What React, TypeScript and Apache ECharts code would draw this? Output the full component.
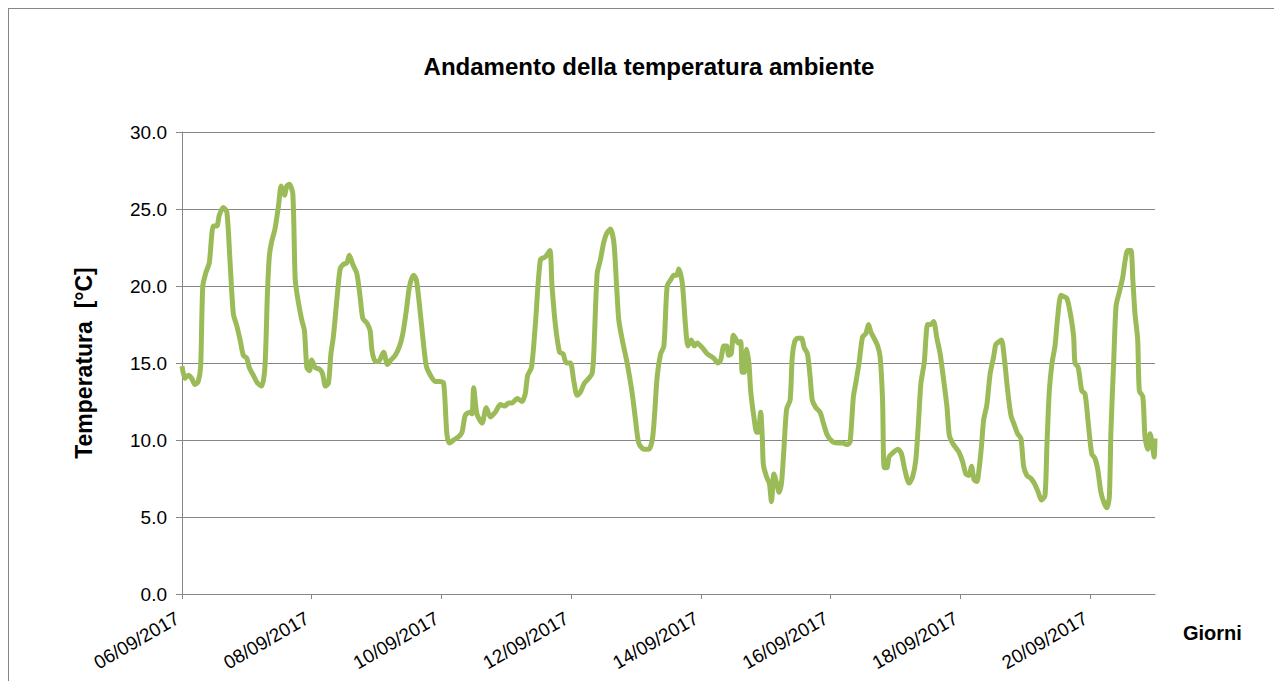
import React, { useEffect, useRef } from "react";
import * as echarts from "echarts";

// Hours elapsed since 06/09/2017 00:00
const hoursFromStart: number[] = [
  0, 1.1, 2.3, 3.6, 4.8, 6.0, 6.9, 7.7, 8.9, 10.1,
  11.6, 12.9, 13.8, 15.3, 16.6, 17.8, 19.0, 20.3, 21.5, 22.7,
  24.0, 24.9, 26.4, 27.9, 29.5, 30.7, 31.6, 32.3, 33.2, 34.4,
  35.7, 36.7, 37.9, 38.8, 39.7, 41.0, 41.9, 43.1, 44.3, 45.3,
  46.2, 47.2, 48.0, 49.3, 50.9, 52.0, 53.1, 54.2, 55.1, 56.0,
  57.3, 58.5, 59.7, 61.0, 61.9, 63.2, 64.7, 65.9, 66.9, 68.4,
  69.6, 70.3, 71.5, 72.7, 74.6, 76.0, 77.3, 78.9, 80.5, 81.7,
  83.0, 84.2, 85.7, 86.7, 87.9, 89.2, 90.4, 91.9, 93.7, 95.3,
  96.8, 98.0, 99.0, 100.5, 102.3, 103.6, 104.8, 106.4, 107.3, 107.9,
  109.1, 111.0, 112.6, 114.1, 115.9, 117.8, 119.3, 120.9, 122.1, 124.0,
  125.8, 127.0, 127.9, 129.3, 130.7, 132.6, 134.5, 136.1, 136.9, 138.2,
  139.7, 141.0, 142.2, 143.7, 144.9, 146.2, 147.4, 148.9, 150.5, 151.7,
  152.3, 153.6, 154.8, 156.0, 157.1, 158.5, 159.8, 160.8, 161.6, 162.9,
  164.7, 166.6, 167.8, 169.0, 170.9, 172.7, 174.0, 174.8, 175.8, 177.1,
  178.3, 179.5, 180.8, 182.0, 183.0, 183.8, 185.1, 186.3, 187.2, 188.4,
  189.6, 190.6, 192.5, 194.3, 196.8, 198.3, 199.3, 200.5, 201.5, 202.3,
  203.2, 204.0, 204.8, 205.8, 206.7, 207.3, 208.2, 208.9, 209.8, 210.4,
  211.6, 212.6, 213.2, 214.1, 214.7, 215.1, 216.3, 217.3, 218.1, 219.0,
  220.0, 220.9, 221.8, 222.7, 223.7, 225.0, 225.8, 226.7, 227.7, 229.2,
  230.2, 231.4, 232.4, 233.2, 234.5, 236.1, 237.3, 238.8, 240.6, 242.5,
  244.3, 246.2, 247.2, 248.4, 249.3, 250.5, 251.8, 253.0, 254.0, 254.9,
  256.1, 257.4, 258.3, 259.2, 259.8, 260.8, 261.6, 263.2, 264.9, 266.2,
  267.4, 269.0, 270.3, 271.5, 272.4, 273.4, 274.6, 275.9, 277.1, 278.1,
  279.3, 280.5, 281.8, 283.0, 283.9, 285.1, 286.3, 287.5, 288.8, 290.0,
  291.2, 292.1, 293.1, 294.1, 294.9, 295.8, 296.6, 297.8, 299.0, 300.3,
  301.1, 302.4, 303.2, 304.2, 305.5, 306.7, 307.9, 309.2, 310.4, 311.4,
  312.6, 314.1, 315.6, 316.8, 318.0, 319.3, 320.0, 320.9, 321.9, 323.0,
  324.0, 325.2, 326.4, 327.4, 328.7, 329.9, 330.4, 331.6, 332.9, 334.1,
  335.3, 336.6, 337.8, 338.8, 340.0, 341.2, 342.2, 343.1, 343.7, 344.7,
  345.6, 346.8, 348.1, 348.9, 349.9, 351.1, 351.8, 352.6, 353.6, 354.2,
  355.5, 356.3, 357.3, 358.2, 358.9, 359.7, 360,
];

// Temperature [°C]
const temperatures: number[] = [
  14.8, 14.0, 14.2, 14.0, 13.6, 13.8, 14.8, 20.0, 20.9, 21.5,
  23.9, 23.9, 24.6, 25.1, 24.8, 21.5, 18.2, 17.4, 16.5, 15.5,
  15.3, 14.7, 14.2, 13.7, 13.5, 14.8, 19.5, 21.9, 22.9, 23.7,
  25.2, 26.5, 25.9, 26.5, 26.6, 26.0, 20.4, 18.9, 17.8, 17.1,
  14.7, 14.5, 15.2, 14.7, 14.6, 14.3, 13.5, 13.7, 15.6, 16.7,
  19.1, 21.1, 21.4, 21.5, 22.0, 21.4, 20.8, 19.3, 17.9, 17.6,
  17.1, 15.8, 15.1, 15.1, 15.7, 14.9, 15.2, 15.5, 16.1, 16.9,
  18.4, 20.0, 20.7, 20.4, 18.7, 16.5, 14.8, 14.2, 13.8, 13.8,
  13.7, 10.4, 9.8, 10.0, 10.2, 10.5, 11.6, 11.8, 11.7, 13.4,
  11.7, 11.1, 12.1, 11.5, 11.8, 12.3, 12.2, 12.4, 12.4, 12.7,
  12.5, 13.0, 14.2, 14.7, 17.4, 21.7, 21.9, 22.3, 20.0, 17.4,
  15.7, 15.6, 15.0, 15.0, 13.9, 12.9, 13.1, 13.7, 14.0, 14.3,
  15.4, 20.8, 21.7, 22.8, 23.4, 23.7, 22.8, 20.0, 17.8, 16.5,
  15.0, 13.0, 11.3, 9.8, 9.4, 9.4, 10.0, 11.5, 14.1, 15.6,
  16.1, 20.0, 20.4, 20.7, 20.7, 21.1, 20.2, 17.4, 16.1, 16.5,
  16.1, 16.3, 16.0, 15.6, 15.3, 15.0, 15.2, 16.1, 16.1, 15.5,
  15.6, 16.8, 16.6, 16.3, 16.4, 14.4, 14.4, 15.9, 14.9, 13.2,
  11.5, 10.5, 10.5, 11.8, 10.2, 8.4, 7.6, 7.2, 6.0, 7.8,
  7.2, 6.6, 7.2, 9.4, 12.0, 12.6, 15.4, 16.4, 16.6, 16.6,
  16.0, 15.6, 14.1, 12.6, 12.1, 11.8, 11.1, 10.3, 9.9, 9.8,
  9.8, 9.7, 9.9, 12.8, 13.7, 15.0, 16.7, 16.9, 17.5, 17.0,
  16.6, 16.1, 15.4, 12.6, 8.2, 8.2, 8.9, 9.2, 9.4, 9.1,
  8.1, 7.2, 7.6, 8.7, 10.9, 13.7, 15.0, 17.5, 17.5, 17.7,
  16.6, 15.6, 13.9, 12.2, 10.3, 9.8, 9.5, 9.2, 8.6, 7.8,
  7.7, 8.3, 7.4, 7.3, 8.1, 9.6, 11.3, 12.3, 14.3, 15.4,
  16.2, 16.4, 16.5, 15.4, 13.2, 11.6, 11.0, 10.4, 10.1, 8.3,
  7.7, 7.5, 7.1, 6.6, 6.1, 6.4, 9.6, 13.2, 15.0, 16.1,
  18.0, 19.4, 19.3, 19.2, 18.2, 16.7, 15.0, 14.7, 13.2, 13.0,
  11.1, 9.1, 8.8, 8.1, 6.6, 5.9, 5.6, 6.3, 10.6, 15.0,
  18.7, 19.6, 20.6, 21.6, 22.3, 22.3, 20.4, 18.2, 16.5, 13.2,
  12.8, 10.2, 9.4, 10.4, 9.8, 8.9, 10.1,
];

// Tick positions (hours) and their labels
const xTickHours: number[] = [0, 48, 96, 144, 192, 240, 288, 336];
const xTickLabels: string[] = [
  "06/09/2017", "08/09/2017", "10/09/2017", "12/09/2017",
  "14/09/2017", "16/09/2017", "18/09/2017", "20/09/2017",
];

const TITLE = "Andamento della temperatura ambiente";
const Y_NAME = "Temperatura  [°C]";
const X_NAME = "Giorni";

const FONT = '"Liberation Sans", Arial, sans-serif';
const GRID_COLOR = "#868686";

export default function App() {
  const ref = useRef<HTMLDivElement>(null);

  useEffect(() => {
    if (!ref.current) return;
    const chart = echarts.init(ref.current, null, { renderer: "svg" });
    const data = hoursFromStart.map((h, i) => [h, temperatures[i]]);
    chart.setOption({
      animation: false,
      backgroundColor: "#ffffff",
      grid: { left: 173, top: 123, right: 119, bottom: 87, containLabel: false },
      xAxis: {
        type: "value",
        min: 0,
        max: 360,
        interval: 48,
        axisLine: { show: true, lineStyle: { color: GRID_COLOR, width: 1 } },
        axisTick: {
          show: true,
          length: 5,
          lineStyle: { color: GRID_COLOR },
          customValues: xTickHours,
        },
        axisLabel: {
          customValues: xTickHours,
          rotate: 30,
          margin: 20,
          padding: [0, 5, 0, 0],
          fontSize: 19,
          fontFamily: FONT,
          color: "#000",
          formatter: (v: number) => {
            const idx = xTickHours.indexOf(v);
            return idx >= 0 ? xTickLabels[idx] : "";
          },
        },
        splitLine: { show: false },
      },
      yAxis: {
        type: "value",
        min: 0,
        max: 30,
        interval: 5,
        axisLine: { show: true, lineStyle: { color: GRID_COLOR, width: 1 } },
        axisTick: { show: true, length: 6, lineStyle: { color: GRID_COLOR } },
        axisLabel: {
          margin: 15,
          fontSize: 19,
          fontFamily: FONT,
          color: "#000",
          formatter: (v: number) => v.toFixed(1),
        },
        splitLine: { show: true, lineStyle: { color: GRID_COLOR, width: 1 } },
      },
      graphic: [
        {
          type: "text",
          x: 640,
          y: 57,
          style: {
            text: TITLE,
            fill: "#000",
            font: `bold 24px ${FONT}`,
            textAlign: "center",
            textVerticalAlign: "middle",
          },
        },
        {
          type: "text",
          x: 75,
          y: 354,
          rotation: Math.PI / 2,
          style: {
            text: Y_NAME,
            fill: "#000",
            font: `bold 23px ${FONT}`,
            textAlign: "center",
            textVerticalAlign: "middle",
          },
        },
        {
          type: "text",
          x: 1174,
          y: 624,
          style: {
            text: X_NAME,
            fill: "#000",
            font: `bold 20px ${FONT}`,
            textAlign: "left",
            textVerticalAlign: "middle",
          },
        },
      ],
      series: [
        {
          type: "line",
          data,
          showSymbol: false,
          smooth: 0.25,
          lineStyle: { color: "#9BBB59", width: 5 },
          itemStyle: { color: "#9BBB59" },
        },
      ],
    });
    return () => chart.dispose();
  }, []);

  return (
    <div
      style={{
        width: 1265,
        height: 672,
        borderLeft: "1px solid #868686",
        borderTop: "1px solid #868686",
      }}
    >
      <div ref={ref} style={{ width: 1265, height: 672 }} />
    </div>
  );
}
